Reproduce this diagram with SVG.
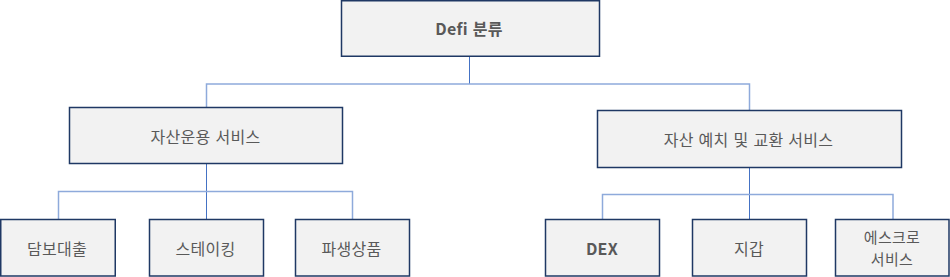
<svg xmlns="http://www.w3.org/2000/svg" width="950" height="277" viewBox="0 0 950 277">
<style>
.box{fill:#F2F2F2;stroke:#1F3864;stroke-width:1.5}
.t{font-family:"Noto Sans CJK KR","Noto Sans",sans-serif;font-size:16px;fill:#595959;text-anchor:middle;dominant-baseline:central;letter-spacing:0.3px;word-spacing:1px}
.s{font-size:15px}
.b{font-weight:bold}
.c1{fill:none;stroke:#4472C4;stroke-width:1}
.c2{fill:none;stroke:#8EAADB;stroke-width:1.5}
</style>
<rect width="950" height="277" fill="#FFFFFF"/>
<g id="connectors">
<path class="c1" d="M469.5 56V84"/>
<path class="c2" d="M206.5 108V84H749.5V110"/>
<path class="c1" d="M206.5 163.5V219"/>
<path class="c2" d="M58.5 219V191.5H352.5V219"/>
<path class="c1" d="M749.5 167V219"/>
<path class="c2" d="M602.5 219V194.5H893V219"/>
</g>
<g id="root"><rect class="box" x="341.5" y="0.75" width="258" height="55.5"/><text class="t b" x="469" y="28">Defi 분류</text></g>
<g id="asset-mgmt"><rect class="box" x="69.5" y="107.5" width="273" height="56"/><text class="t" x="205.5" y="135.5">자산운용 서비스</text></g>
<g id="asset-exchange"><rect class="box" x="597.5" y="110.5" width="304" height="57"/><text class="t" x="748.5" y="139">자산 예치 및 교환 서비스</text></g>
<g id="loan"><rect class="box" x="0.75" y="219.5" width="114.5" height="56.5"/><text class="t" x="57" y="248">담보대출</text></g>
<g id="staking"><rect class="box" x="149.5" y="219.5" width="114" height="56.5"/><text class="t" x="205.5" y="248">스테이킹</text></g>
<g id="derivatives"><rect class="box" x="295.5" y="219.5" width="114" height="56.5"/><text class="t" x="351.5" y="248">파생상품</text></g>
<g id="dex"><rect class="box" x="545.5" y="219.5" width="114" height="56.5"/><text class="t b" x="602" y="248">DEX</text></g>
<g id="wallet"><rect class="box" x="692.5" y="219.5" width="114" height="56.5"/><text class="t" x="749" y="248">지갑</text></g>
<g id="escrow"><rect class="box" x="835.5" y="219.5" width="113.5" height="56.5"/><text class="t s" x="892" y="236">에스크로</text><text class="t s" x="892" y="258">서비스</text></g>
</svg>
